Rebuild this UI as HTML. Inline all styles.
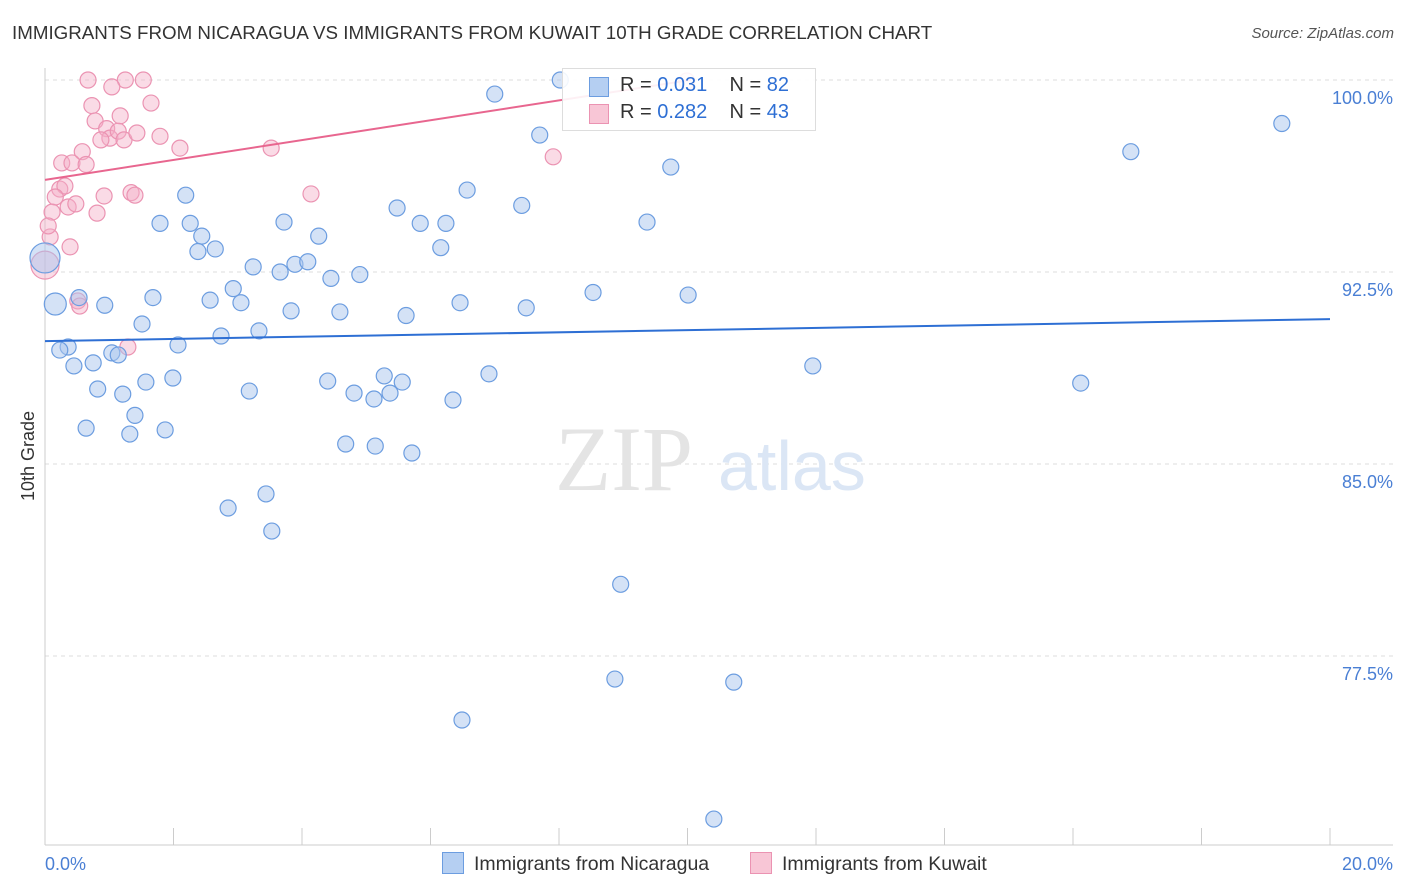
<!DOCTYPE html>
<html><head><meta charset="utf-8">
<style>
body{margin:0;background:#fff;font-family:"Liberation Sans",sans-serif;}
#wrap{position:relative;width:1406px;height:892px;overflow:hidden;}
.t{position:absolute;white-space:nowrap;}
</style></head>
<body>
<div id="wrap">
<div class="t" style="left:12px;top:22px;font-size:18.75px;color:#333;">IMMIGRANTS FROM NICARAGUA VS IMMIGRANTS FROM KUWAIT 10TH GRADE CORRELATION CHART</div>
<div class="t" style="right:12px;top:25px;font-size:15px;color:#555;font-style:italic;">Source: ZipAtlas.com</div>
<svg id="chart" width="1406" height="892" style="position:absolute;left:0;top:0"></svg>
</div>
<script>
const yTicks=[100,92.5,85,77.5];
const yTickLabels=["100.0%","92.5%","85.0%","77.5%"];
const xTickLabels=["0.0%","20.0%"];
const blueX=[8.02,7.00,7.70,9.74,19.25,16.90,6.57,7.42,5.48,5.84,6.24,9.37,2.19,1.79,2.26,2.44,2.65,2.38,3.72,4.26,6.16,3.24,3.66,3.89,4.09,4.45,4.90,2.93,2.57,3.05,3.83,4.59,5.62,6.46,7.49,8.53,10.01,0.93,0.53,1.68,1.51,3.33,2.74,2.07,0.36,0.23,1.04,1.14,0.75,0.45,11.95,16.12,6.91,5.28,5.56,4.40,4.81,5.12,5.37,1.57,1.99,0.82,1.21,3.18,6.35,1.40,0.64,1.32,1.87,4.68,5.14,5.71,3.44,2.85,3.53,8.96,8.87,10.72,6.49,10.41,0.16,0.0];
const blueY=[100.0,99.45,97.85,96.6,98.3,97.2,95.7,95.1,95.0,94.4,94.4,94.45,95.5,94.4,94.4,93.9,93.4,93.3,94.45,93.9,93.45,92.7,92.5,92.8,92.9,92.25,92.4,91.85,91.4,91.3,90.98,90.94,90.8,91.3,91.1,91.7,91.6,91.2,91.5,91.5,90.47,90.2,90.0,89.65,89.57,89.45,89.34,89.26,88.95,88.83,88.83,88.16,88.52,88.44,88.2,88.24,87.77,87.54,87.77,88.2,88.36,87.93,87.73,87.85,87.5,86.9,86.4,86.17,86.33,85.78,85.7,85.43,83.83,83.28,82.38,80.3,76.6,76.48,75.0,71.13,91.25,93.05];
const blueSize=[9,9,9,9,9,9,9,9,9,9,9,9,9,9,9,9,9,9,9,9,9,9,9,9,9,9,9,9,9,9,9,9,9,9,9,9,9,9,9,9,9,9,9,9,9,9,9,9,9,9,9,9,9,9,9,9,9,9,9,9,9,9,9,9,9,9,9,9,9,9,9,9,9,9,9,9,9,9,9,9,12,16];
const pinkX=[0.67,1.25,1.53,1.04,1.65,0.73,0.78,1.17,0.96,1.01,1.14,1.23,1.43,1.79,2.10,3.52,7.91,0.58,0.26,0.42,0.64,0.23,0.31,0.16,0.11,0.36,0.48,0.81,0.92,1.34,1.40,4.14,0.08,0.39,0.0,0.51,0.54,1.29,0.05,9.99,0.87];
const pinkY=[100.0,100.0,100.0,99.73,99.1,99.0,98.4,98.6,98.1,97.73,98.0,97.66,97.93,97.8,97.34,97.34,97.0,97.2,96.76,96.76,96.7,95.74,95.86,95.43,94.84,95.04,95.16,94.8,95.47,95.6,95.5,95.55,93.87,93.48,92.77,91.37,91.17,89.57,94.3,99.96,97.66];
const trendBlue=[89.8,90.66];
const trendPink=[96.1,100.0];
const trendPinkEnd=10.05;

const X0=45,X1=1330,Y100=80,PXPCT=25.6;
const sx=v=>X0+(X1-X0)*v/20;
const sy=v=>Y100+(100-v)*PXPCT;
const svg=document.getElementById('chart');
const NS="http://www.w3.org/2000/svg";
function mk(tag,attrs){const e=document.createElementNS(NS,tag);for(const k in attrs)e.setAttribute(k,attrs[k]);svg.appendChild(e);return e;}

yTicks.forEach((v,i)=>{
  const g=mk('line',{x1:X0,x2:1393,y1:sy(v),y2:sy(v),stroke:'#ddd','stroke-dasharray':'4,4'});
  
  
  const t=mk('text',{x:1393,y:sy(v)+24,'text-anchor':'end','font-size':18,fill:'#4a7fd4','font-family':'Liberation Sans'});
  t.textContent=yTickLabels[i];
  
  
});
const ya=mk('line',{x1:X0,x2:X0,y1:68,y2:845,stroke:'#ccc'});


const xa=mk('line',{x1:X0,x2:1393,y1:845,y2:845,stroke:'#ccc'});


for(let i=0;i<=10;i++){
  const tk=mk('line',{x1:sx(i*2),x2:sx(i*2),y1:828,y2:845,stroke:'#ccc'});
  
  
}
const xl0=mk('text',{x:45,y:870,'font-size':18,fill:'#4a7fd4','font-family':'Liberation Sans'});
xl0.textContent=xTickLabels[0];


const xl1=mk('text',{x:1393,y:870,'text-anchor':'end','font-size':18,fill:'#4a7fd4','font-family':'Liberation Sans'});
xl1.textContent=xTickLabels[1];


const yt=mk('text',{x:34,y:456,'text-anchor':'middle','font-size':18,fill:'#333',transform:'rotate(-90 34 456)','font-family':'Liberation Sans'});
yt.textContent='10th Grade';


const wm=mk('text',{x:555,y:490,'font-size':92,fill:'#e4e4e4','font-family':'Liberation Serif'});
wm.textContent='ZIP';


const wm2=mk('text',{x:718,y:490,'font-size':70,fill:'#dbe6f5','font-family':'Liberation Sans'});
wm2.textContent='atlas';



pinkX.forEach((x,i)=>{
  const c=mk('circle',{cx:sx(x),cy:sy(pinkY[i]),r:i===34?14:8,fill:'rgba(244,176,200,0.45)',stroke:'#eb93b2','stroke-width':1.2});
  
  
});
blueX.forEach((x,i)=>{
  const c=mk('circle',{cx:sx(x),cy:sy(blueY[i]),r:blueSize[i]-1,fill:'rgba(169,198,238,0.5)',stroke:'#6c9de0','stroke-width':1.2});
  
  
});
const tb=mk('line',{x1:sx(0),y1:sy(trendBlue[0]),x2:sx(20),y2:sy(trendBlue[1]),stroke:'#2e6fd4','stroke-width':2});


const tp=mk('line',{x1:sx(0),y1:sy(trendPink[0]),x2:sx(trendPinkEnd),y2:sy(trendPink[1]),stroke:'#e8668f','stroke-width':2});


</script>
<div style="position:absolute;left:562px;top:68px;width:252px;height:61px;background:rgba(255,255,255,0.9);border:1px solid #ddd;font-size:20px;color:#333;">
  <div style="position:absolute;left:26px;top:8px;width:18px;height:18px;background:#b5cff2;border:1px solid #6c9de0;"></div>
  <div class="t" style="left:57px;top:5px;">R = <span style="color:#2e6fd4">0.031</span>&nbsp;&nbsp;&nbsp; N = <span style="color:#2e6fd4">82</span></div>
  <div style="position:absolute;left:26px;top:35px;width:18px;height:18px;background:#f8c6d6;border:1px solid #eb93b2;"></div>
  <div class="t" style="left:57px;top:32px;">R = <span style="color:#2e6fd4">0.282</span>&nbsp;&nbsp;&nbsp; N = <span style="color:#2e6fd4">43</span></div>
</div>
<div style="position:absolute;left:442px;top:852px;font-size:19.5px;color:#333;">
  <div style="position:absolute;left:0;top:0;white-space:nowrap;"><span style="display:inline-block;width:20px;height:20px;background:#b5cff2;border:1px solid #6c9de0;vertical-align:-4px;margin-right:10px;"></span>Immigrants from Nicaragua</div>
  <div style="position:absolute;left:308px;top:0;white-space:nowrap;"><span style="display:inline-block;width:20px;height:20px;background:#f8c6d6;border:1px solid #eb93b2;vertical-align:-4px;margin-right:10px;"></span>Immigrants from Kuwait</div>
</div>
</body></html>
